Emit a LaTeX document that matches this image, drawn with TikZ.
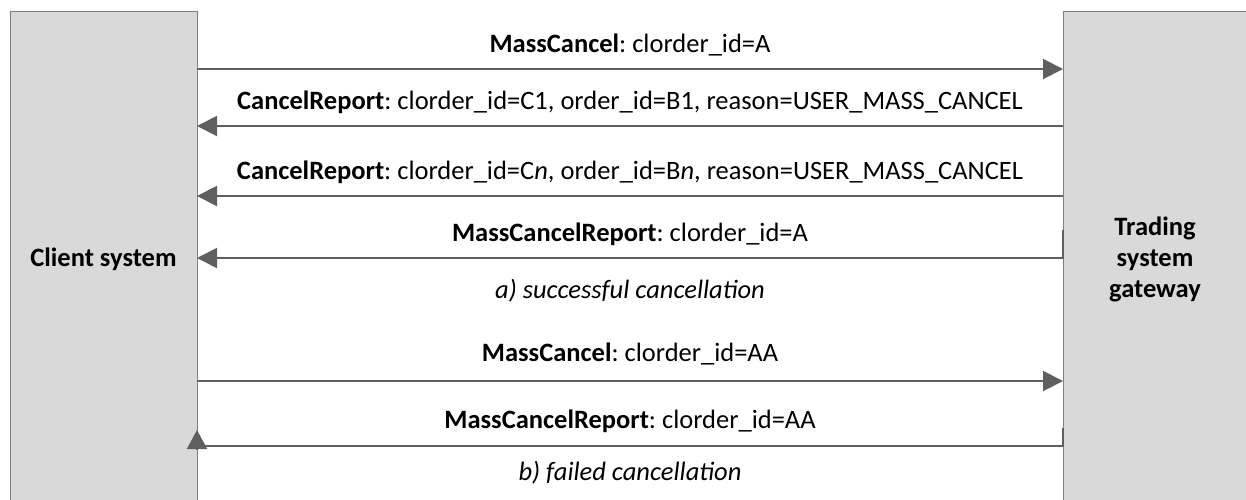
\documentclass[tikz,border=0pt]{standalone}
\usepackage{fontspec}
\setmainfont{Carlito}
\usetikzlibrary{arrows.meta}
\definecolor{boxfill}{HTML}{D9D9D9}
\definecolor{boxline}{HTML}{7F7F7F}
\definecolor{arrcol}{HTML}{5F5F5F}
\frenchspacing
\begin{document}
\begin{tikzpicture}[x=1pt,y=-1pt,
  box/.style={draw=boxline,line width=1.2pt,fill=boxfill,anchor=north west,inner sep=0pt},
  arr/.style={draw=arrcol,line width=2pt,-{Triangle[length=20pt,width=20pt]}},
  plain/.style={draw=arrcol,line width=2pt},
  lbl/.style={anchor=base,inner sep=0pt,font=\fontsize{26.5}{31}\selectfont},
  captxt/.style={lbl,font=\fontsize{26.5}{31}\selectfont\itshape},
  title/.style={inner sep=0pt,align=center,font=\fontsize{26.5}{31}\selectfont\bfseries}]
\useasboundingbox (0,0) rectangle (1246,499);
\clip (0,0) rectangle (1246,499);
\node[box,minimum width=187pt,minimum height=520pt] (client) at (10,11) {};
\node[box,minimum width=200pt,minimum height=520pt] (gateway) at (1063,11) {};
\node[title,anchor=base] (clientlbl) at (103.5,266) {Client system};
\node[title,anchor=base] (gwlbl) at (1155,297) {Trading\\system\\gateway};
% rows
\coordinate (l1) at (197,69);  \coordinate (r1) at (1063,69);
\coordinate (l2) at (197,126); \coordinate (r2) at (1063,126);
\coordinate (l3) at (197,196); \coordinate (r3) at (1063,196);
\coordinate (l4) at (197,258); \coordinate (r4) at (1063,230);
\coordinate (l5) at (197,381); \coordinate (r5) at (1063,381);
\coordinate (l6) at (197,446); \coordinate (r6) at (1063,428);
\coordinate (h6b) at (197,449); \coordinate (h6t) at (197,430);
\draw[arr] (l1) -- (r1);
\draw[arr] (r2) -- (l2);
\draw[arr] (r3) -- (l3);
\draw[arr] (r4) |- (l4);
\draw[arr] (l5) -- (r5);
\draw[plain] (r6) |- (l6);
\draw[arrcol,line width=2pt,-{Triangle[length=19pt,width=20pt]}] (h6b) -- (h6t);
% labels
\node[lbl] (t1) at (630,52) {\textbf{MassCancel}: clorder\_id=A};
\node[lbl] (t2) at (630,109) {\textbf{CancelReport}: clorder\_id=C1, order\_id=B1, reason=USER\_MASS\_CANCEL};
\node[lbl] (t3) at (630,179) {\textbf{CancelReport}: clorder\_id=C\textit{n}, order\_id=B\textit{n}, reason=USER\_MASS\_CANCEL};
\node[lbl] (t4) at (630,241) {\textbf{MassCancelReport}: clorder\_id=A};
\node[captxt] (ca) at (630,298) {a) successful cancellation};
\node[lbl] (t5) at (630,361) {\textbf{MassCancel}: clorder\_id=AA};
\node[lbl] (t6) at (630,428) {\textbf{MassCancelReport}: clorder\_id=AA};
\node[captxt] (cb) at (630,480) {b) failed cancellation};
\end{tikzpicture}
\end{document}
